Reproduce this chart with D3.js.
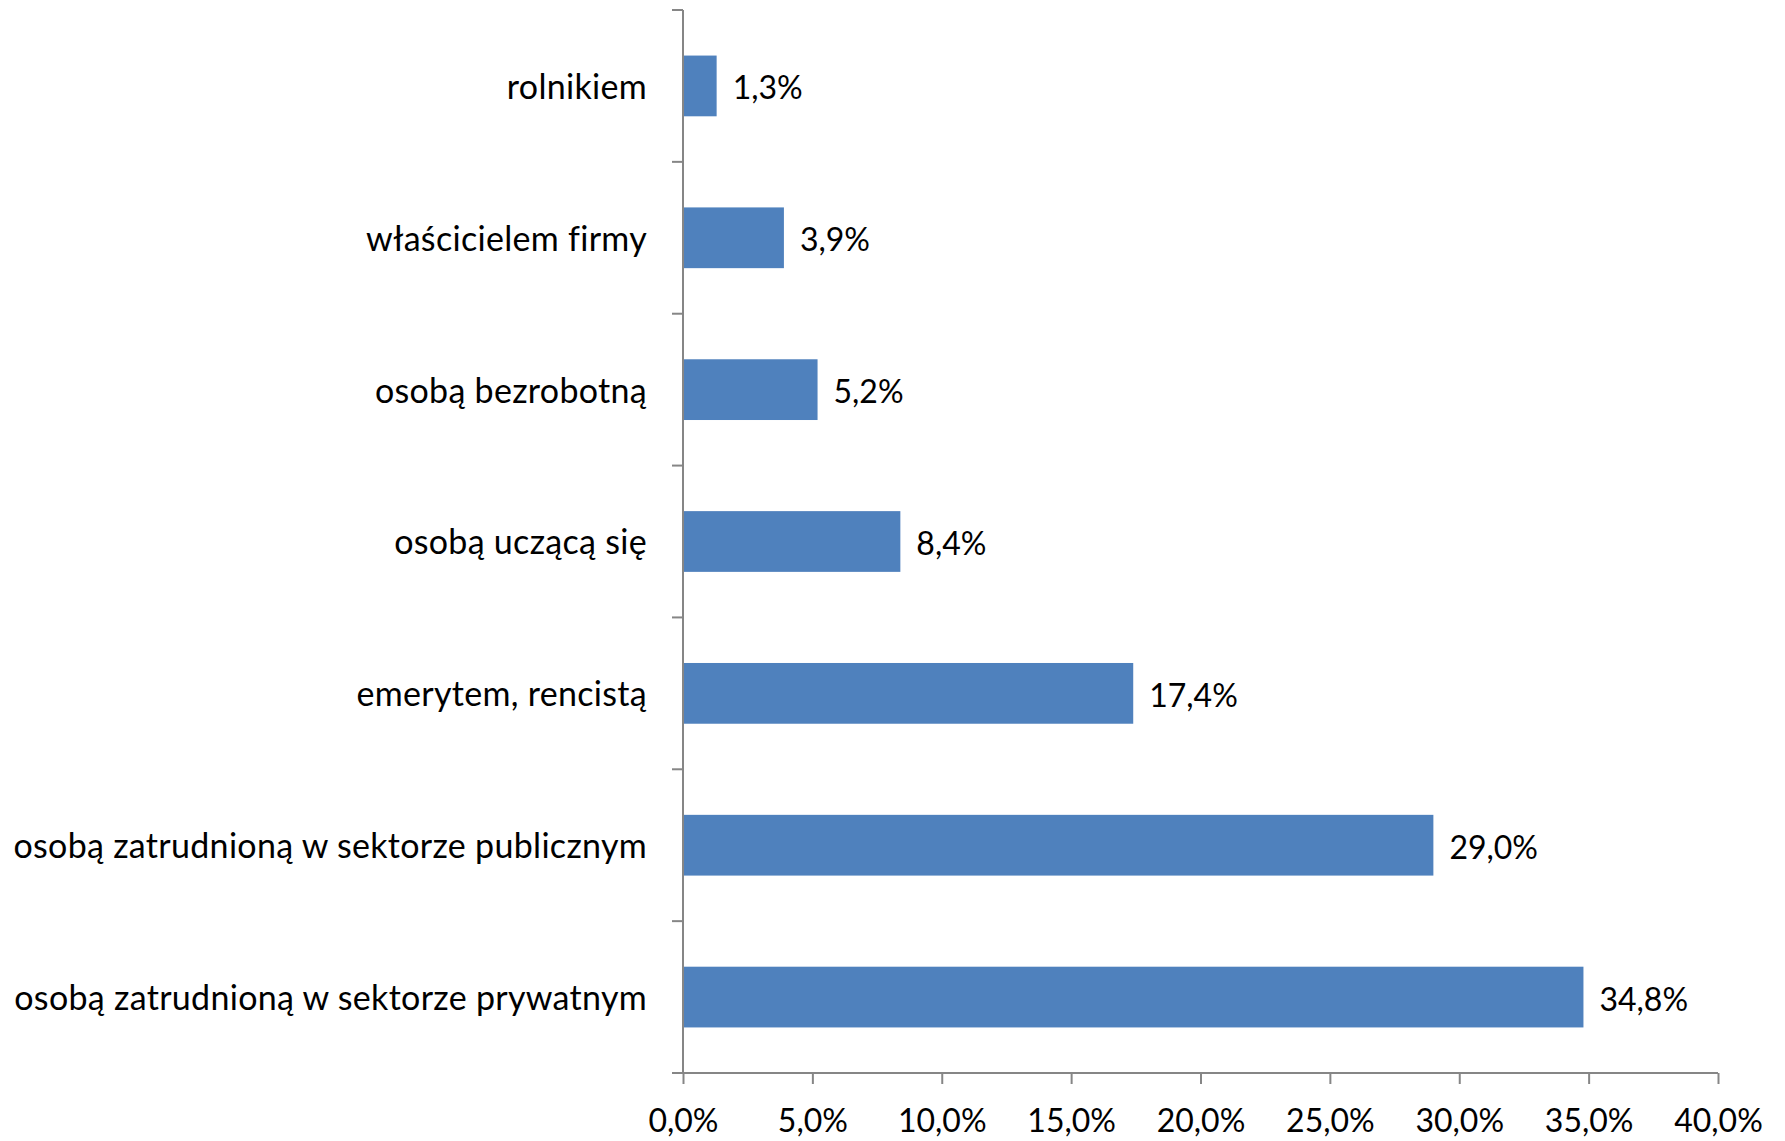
<!DOCTYPE html>
<html>
<head>
<meta charset="utf-8">
<script src="https://cdn.jsdelivr.net/npm/d3@7/dist/d3.min.js"></script>
<style>
  html, body { margin: 0; padding: 0; background: #fff; }
  svg { display: block; }
  text { font-family: Lato, "Open Sans", sans-serif; fill: #000; }
</style>
</head>
<body>
<svg id="chart" width="1785" height="1141"></svg>
<script>
// Data
const categories = [
  "rolnikiem",
  "właścicielem firmy",
  "osobą bezrobotną",
  "osobą uczącą się",
  "emerytem, rencistą",
  "osobą zatrudnioną w sektorze publicznym",
  "osobą zatrudnioną w sektorze prywatnym"
];
const values = [1.3, 3.9, 5.2, 8.4, 17.4, 29.0, 34.8];
const xTicks = [0, 5, 10, 15, 20, 25, 30, 35, 40];

(function () {
const fmt = v => v.toFixed(1).replace(".", ",") + "%";

const svg = d3.select("#chart");
const pLeft = 683, pRight = 1718, pTop = 10, pBottom = 1073;
const fontSize = 32;
const catFontSize = 34;
const axisColor = "#868686";
const barColor = "#4F81BD";

const x = d3.scaleLinear().domain([0, 40]).range([pLeft, pRight]);
const y = d3.scaleBand().domain(categories).range([pTop, pBottom]).paddingInner(0.6).paddingOuter(0.3);

// Bars
svg.append("g").selectAll("rect")
  .data(values)
  .join("rect")
  .attr("x", x(0))
  .attr("y", (d, i) => y(categories[i]))
  .attr("width", d => x(d) - x(0))
  .attr("height", y.bandwidth())
  .attr("fill", barColor);

// Data labels
svg.append("g").selectAll("text")
  .data(values)
  .join("text")
  .attr("x", d => x(d) + 16)
  .attr("y", (d, i) => y(categories[i]) + y.bandwidth() / 2)
  .attr("dy", "0.42em")
  .attr("font-size", fontSize)
  .text(d => fmt(d));

// Y axis (category axis) with ticks at band boundaries
const step = (pBottom - pTop) / categories.length;
const gy = svg.append("g");
gy.append("line")
  .attr("x1", pLeft).attr("x2", pLeft)
  .attr("y1", pTop).attr("y2", pBottom)
  .attr("stroke", axisColor).attr("stroke-width", 2);
gy.selectAll("line.tick")
  .data(d3.range(categories.length + 1))
  .join("line")
  .attr("class", "tick")
  .attr("x1", pLeft - 11).attr("x2", pLeft)
  .attr("y1", i => pTop + i * step).attr("y2", i => pTop + i * step)
  .attr("stroke", axisColor).attr("stroke-width", 2);
gy.selectAll("text")
  .data(categories)
  .join("text")
  .attr("x", pLeft - 36)
  .attr("y", d => y(d) + y.bandwidth() / 2)
  .attr("dy", "0.38em")
  .attr("text-anchor", "end")
  .attr("font-size", catFontSize)
  .attr("letter-spacing", "0.3px")
  .text(d => d);

// X axis
const xAxis = d3.axisBottom(x)
  .tickValues(xTicks)
  .tickSize(11)
  .tickPadding(25)
  .tickFormat(d => fmt(d));
const gx = svg.append("g")
  .attr("transform", `translate(0,${pBottom})`)
  .call(xAxis);
gx.select(".domain").remove();
gx.append("line")
  .attr("x1", pLeft - 11).attr("x2", pRight)
  .attr("y1", 0).attr("y2", 0)
  .attr("stroke", axisColor).attr("stroke-width", 2);
gx.selectAll(".tick line").attr("stroke", axisColor).attr("stroke-width", 2);
gx.selectAll(".tick text")
  .attr("font-size", fontSize)
  .attr("font-family", "Lato, 'Open Sans', sans-serif")
  .attr("fill", "#000");
})();
</script>
</body>
</html>
